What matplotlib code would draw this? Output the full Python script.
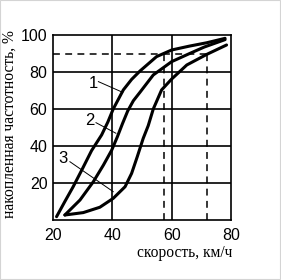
import matplotlib
matplotlib.use("Agg")
import matplotlib.pyplot as plt
from matplotlib.patches import Rectangle

# Data (speed km/h, cumulative frequency %)
c1_x = [21.2, 24, 26.8, 29.7, 33, 36.4, 38.5, 40.3, 43.7, 46.5, 49.3, 54.9, 60, 66, 71.8, 78]
c1_y = [1.8, 10, 18, 27, 37.5, 46, 53, 60, 70.3, 76, 80.5, 88.3, 91.9, 94, 95.8, 98.2]

c2_x = [24, 29.1, 33.6, 37, 39.8, 41.7, 43.4, 45.2, 47.1, 49.3, 53.8, 60, 66.2, 71, 78]
c2_y = [2.7, 10.8, 20.7, 29.7, 37.8, 45, 52, 59, 64.5, 69, 78.4, 85.6, 90.1, 93.5, 97.5]

c3_x = [24, 30.2, 35.8, 40.3, 44.3, 46.5, 48.4, 50.4, 52.1, 53.8, 56.6, 60, 65.1, 71.8, 78.5]
c3_y = [2.7, 4, 6.9, 11.7, 18, 25.2, 34.2, 44.1, 51, 60, 70.3, 76.2, 83.8, 89.5, 94.6]

p90_level = 90
p90_speeds = [57.5, 72]

xticks = [20, 40, 60, 80]
yticks = [20, 40, 60, 80, 100]
grid_x = [40, 60]
grid_y = [20, 40, 60, 80]

labels = ["1", "2", "3"]
label_pos = [(33.6, 74), (32.5, 53.7), (23.3, 33.5)]
leader_start = [(35.3, 74.8), (34.5, 52.6), (25.7, 31.5)]
leader_end = [(43.5, 69.0), (41.2, 46.9), (40.3, 15.3)]

fig = plt.figure(figsize=(2.81, 2.80), dpi=100)
ax = fig.add_axes([53 / 281, 60 / 280, 178 / 281, 185 / 280])
ax.set_xlim(20, 80)
ax.set_ylim(0, 100)

for gx in grid_x:
    ax.axvline(gx, color="black", lw=1.2, zorder=1)
for gy in grid_y:
    ax.axhline(gy, color="black", lw=1.2, zorder=1)

dash = (0, (4.5, 3.5))
ax.plot([20, p90_speeds[1]], [p90_level, p90_level], color="black", lw=1.1,
        linestyle=dash, zorder=2)
for s in p90_speeds:
    ax.plot([s, s], [0, p90_level], color="black", lw=1.1, linestyle=dash, zorder=2)

for xs, ys in [(c1_x, c1_y), (c2_x, c2_y), (c3_x, c3_y)]:
    ax.plot(xs, ys, color="black", lw=2.2, solid_joinstyle="round",
            solid_capstyle="round", zorder=3)

for lab, (lx, ly), (sx, sy), (ex, ey) in zip(labels, label_pos, leader_start, leader_end):
    ax.text(lx, ly, lab, fontsize=12, family="Liberation Sans", ha="center",
            va="center", zorder=4)
    ax.plot([sx, ex], [sy, ey], color="black", lw=0.7, zorder=4)

ax.set_xticks(xticks)
ax.set_yticks(yticks)
ax.tick_params(length=0, labelsize=11.5, pad=4)
for t in ax.get_xticklabels() + ax.get_yticklabels():
    t.set_family("Liberation Sans")
ax.tick_params(axis="x", pad=6)
for sp in ax.spines.values():
    sp.set_linewidth(1.2)

fig.text(185 / 281, 1 - 253 / 280, "скорость, км/ч", family="Liberation Serif",
         fontsize=11.2, ha="center", va="center")
fig.text(10 / 281, 1 - 124 / 280, "накопленная частотность, %", family="Liberation Serif",
         fontsize=11.2, ha="center", va="center", rotation=90)

fig.add_artist(Rectangle((0, 0.004), 0.995, 0.995, transform=fig.transFigure,
                         fill=False, edgecolor="#d4d4d4", lw=0.8))

fig.savefig("out.png", dpi=100)
